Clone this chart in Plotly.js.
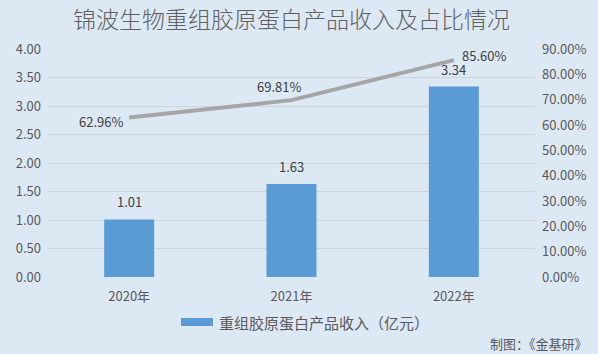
<!DOCTYPE html>
<html><head><meta charset="utf-8">
<script src="https://cdn.plot.ly/plotly-3.0.1.min.js"></script>
<style>html,body{margin:0;padding:0;background:#dde8f5;}</style>
</head><body>
<div id="chart" style="width:598px;height:354px;"></div>
<script>
const categories = ['2020年', '2021年', '2022年'];
const revenue = [1.01, 1.63, 3.34];
const revenueLabels = ['1.01', '1.63', '3.34'];
const share = [62.96, 69.81, 85.60];
const shareLabels = ['62.96%', '69.81%', '85.60%'];
const seriesName = '重组胶原蛋白产品收入（亿元）';
const sourceText = '制图：《金基研》';
const titleText = '锦波生物重组胶原蛋白产品收入及占比情况';
const leftTicks = [0, 0.5, 1, 1.5, 2, 2.5, 3, 3.5, 4];
const leftTickText = ['0.00','0.50','1.00','1.50','2.00','2.50','3.00','3.50','4.00'];
const rightTicks = [0,10,20,30,40,50,60,70,80,90];
const rightTickText = ['0.00%','10.00%','20.00%','30.00%','40.00%','50.00%','60.00%','70.00%','80.00%','90.00%'];

const font = 'Noto Sans CJK SC, Noto Sans, sans-serif';
const textColor = '#404040';
const axisColor = '#595959';

const traces = [
  {
    type: 'bar', x: categories, y: revenue, name: seriesName,
    marker: {color: '#5b9bd5'}, width: 0.308, hoverinfo: 'skip', showlegend: false
  },
  {
    type: 'scatter', mode: 'lines', x: categories, y: share, yaxis: 'y2',
    line: {color: '#a5a5a5', width: 4}, showlegend: false, hoverinfo: 'skip'
  }
];

const annotations = categories.map((c, i) => ({
  x: c, y: revenue[i], xref: 'x', yref: 'y', text: revenueLabels[i],
  showarrow: false, yanchor: 'bottom', yshift: 6,
  font: {family: font, size: 13, color: textColor}
}));
const shareLabelPos = [
  {xanchor: 'right', yanchor: 'middle', xshift: -4, yshift: -4},
  {xanchor: 'center', yanchor: 'bottom', xshift: -13, yshift: 2},
  {xanchor: 'left', yanchor: 'middle', xshift: 6, yshift: 5}
];
categories.forEach((c, i) => {
  annotations.push(Object.assign({
    x: c, y: share[i], xref: 'x', yref: 'y2', text: shareLabels[i], showarrow: false,
    font: {family: font, size: 13, color: textColor}
  }, shareLabelPos[i]));
});
// legend entry
annotations.push({
  xref: 'paper', yref: 'paper', x: (217 - 48) / 487, y: -(322 - 277) / 228,
  xanchor: 'left', yanchor: 'middle', text: seriesName, showarrow: false,
  font: {family: font, size: 15, color: axisColor}
});
annotations.push({
  xref: 'paper', yref: 'paper', x: (590 - 48) / 487, y: -(343 - 277) / 228,
  xanchor: 'right', yanchor: 'middle', text: sourceText, showarrow: false,
  font: {family: font, size: 13, color: axisColor}
});

const shapes = [{
  type: 'rect', xref: 'paper', yref: 'paper',
  x0: (181 - 48) / 487, x1: (213 - 48) / 487,
  y0: -(326 - 277) / 228, y1: -(318 - 277) / 228,
  fillcolor: '#5b9bd5', line: {width: 0}
}];

const layout = {
  width: 598, height: 354,
  paper_bgcolor: '#dde8f5', plot_bgcolor: '#dde8f5',
  margin: {l: 48, r: 63, t: 49, b: 77},
  title: {text: titleText, x: 0.5, xref: 'paper', xanchor: 'center', y: 1 - 20 / 354, yanchor: 'middle',
          font: {family: font, size: 23, color: '#606060', weight: 300}},
  font: {family: font, size: 13, color: axisColor},
  xaxis: {type: 'category', showgrid: false, zeroline: false, showline: false, ticks: '',
          tickfont: {family: font, size: 13, color: axisColor}, ticklabelstandoff: 10},
  yaxis: {range: [0, 4], tickvals: leftTicks, ticktext: leftTickText, showgrid: true,
          gridcolor: '#d0d4d9', gridwidth: 1, zeroline: false, showline: false,
          tickfont: {family: font, size: 13, color: axisColor}, ticklabelstandoff: 6},
  yaxis2: {range: [0, 90], tickvals: rightTicks, ticktext: rightTickText, overlaying: 'y', side: 'right',
           showgrid: false, zeroline: false, showline: false,
           tickfont: {family: font, size: 13, color: axisColor}, ticklabelstandoff: 6},
  annotations: annotations,
  shapes: shapes,
  showlegend: false
};

Plotly.newPlot('chart', traces, layout, {displayModeBar: false, staticPlot: true});
</script>
</body></html>
